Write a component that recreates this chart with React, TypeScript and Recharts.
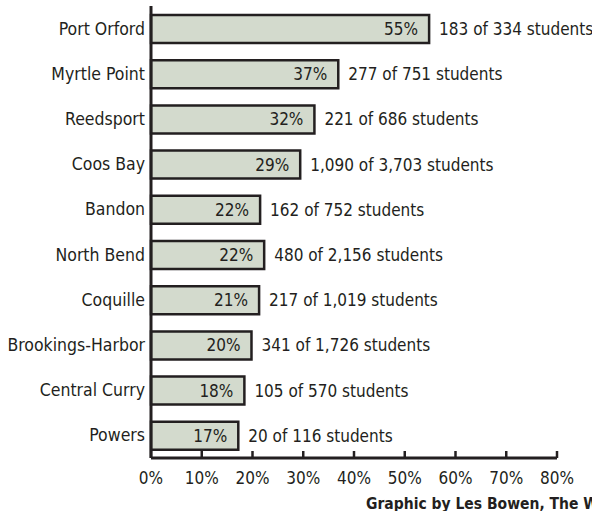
import { BarChart, Bar, XAxis, YAxis, LabelList } from "recharts";

const districts = [
  "Port Orford",
  "Myrtle Point",
  "Reedsport",
  "Coos Bay",
  "Bandon",
  "North Bend",
  "Coquille",
  "Brookings-Harbor",
  "Central Curry",
  "Powers",
];
const shares = [54.8, 36.9, 32.2, 29.4, 21.5, 22.3, 21.3, 19.8, 18.4, 17.2];
const pctLabels = ["55%", "37%", "32%", "29%", "22%", "22%", "21%", "20%", "18%", "17%"];
const countLabels = [
  "183 of 334 students",
  "277 of 751 students",
  "221 of 686 students",
  "1,090 of 3,703 students",
  "162 of 752 students",
  "480 of 2,156 students",
  "217 of 1,019 students",
  "341 of 1,726 students",
  "105 of 570 students",
  "20 of 116 students",
];
const xTicks = [0, 10, 20, 30, 40, 50, 60, 70, 80];

const data = districts.map((name, i) => ({
  name,
  share: shares[i],
  pct: pctLabels[i],
  count: countLabels[i],
}));

const FONT = '"DejaVu Sans Condensed", "DejaVu Sans", sans-serif';
const INK = "#231f20";
const txt = { fontFamily: FONT, fontStretch: "condensed" } as const;

// ticks point up into the plot, labels below
const XTick = (props: any) => {
  const { x, y, payload } = props;
  return (
    <g>
      <line x1={x} x2={x} y1={y - 8} y2={y - 15} stroke={INK} strokeWidth={2.5} />
      <text x={x} y={y + 18} textAnchor="middle" fill={INK} fontSize={17} style={txt}>
        {payload.value}%
      </text>
    </g>
  );
};

const YTick = (props: any) => {
  const { y, payload } = props;
  return (
    <text x={145} y={y + 6} textAnchor="end" fill={INK} fontSize={17.5} style={txt}>
      {payload.value}
    </text>
  );
};

const BarText = (props: any) => {
  const { x, y, width, height, index } = props;
  const end = x + width;
  const cy = y + height / 2 + 6;
  return (
    <g>
      <text x={end - 11} y={cy} textAnchor="end" fill={INK} fontSize={17} style={txt}>
        {pctLabels[index]}
      </text>
      <text x={end + 10} y={cy} fill={INK} fontSize={17} style={txt}>
        {countLabels[index]}
      </text>
    </g>
  );
};

export default function App() {
  return (
    <div style={{ position: "absolute", left: 0, top: 0, width: 592, height: 511, overflow: "hidden", background: "#fff" }}>
      <BarChart
        width={592}
        height={511}
        data={data}
        layout="vertical"
        margin={{ top: 6, right: 35, left: 0, bottom: 23 }}
        barSize={28}
      >
        <XAxis
          type="number"
          domain={[0, 80]}
          ticks={xTicks}
          interval={0}
          tickLine={false}
          axisLine={{ stroke: INK, strokeWidth: 3 }}
          tick={<XTick />}
          height={30}
        />
        <YAxis
          type="category"
          dataKey="name"
          width={151}
          tickLine={false}
          axisLine={{ stroke: INK, strokeWidth: 3 }}
          tick={<YTick />}
        />
        <Bar dataKey="share" fill="#d3dacd" stroke={INK} strokeWidth={2.5} isAnimationActive={false}>
          <LabelList dataKey="share" content={<BarText />} />
        </Bar>
      </BarChart>
      <div
        style={{
          position: "absolute",
          left: 366,
          top: 495,
          ...txt,
          fontWeight: "bold",
          fontSize: 15.5,
          lineHeight: "19px",
          color: INK,
          whiteSpace: "nowrap",
        }}
      >
        Graphic by Les Bowen, The World
      </div>
    </div>
  );
}
